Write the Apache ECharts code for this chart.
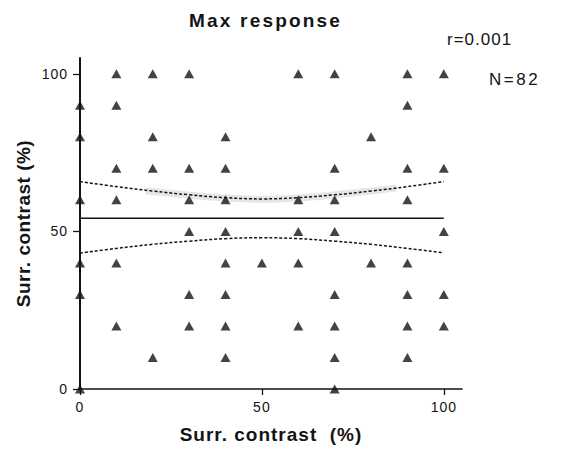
<!DOCTYPE html>
<html>
<head>
<meta charset="utf-8">
<script src="https://cdn.jsdelivr.net/npm/echarts@6/dist/echarts.min.js"></script>
<style>
html,body{margin:0;padding:0;background:#fff;}
#chart{width:574px;height:449px;}
</style>
</head>
<body>
<div id="chart"></div>
<script>
// Scatter points grouped by y value (Surr. contrast %)
const rowY = [100, 90, 80, 70, 60, 50, 40, 30, 20, 10, 0];
const rowX = [
  [10, 20, 30, 60, 70, 90, 100],
  [0, 10, 90],
  [0, 20, 40, 80],
  [10, 20, 30, 40, 70, 90, 100],
  [0, 10, 30, 40, 60, 70, 90],
  [30, 40, 60, 70, 100],
  [0, 10, 40, 50, 60, 80, 90],
  [0, 30, 40, 70, 90, 100],
  [10, 30, 40, 60, 70, 90, 100],
  [20, 40, 70, 90],
  [0, 70]
];
// Regression line and confidence band
const fitX = [0, 100];
const fitY = [54.2, 54.2];
const ciX = [0, 10, 20, 30, 40, 50, 60, 70, 80, 90, 100];
const ciUpper = [65.8, 64.2, 62.8, 61.6, 60.7, 60.3, 60.7, 61.6, 62.8, 64.2, 65.8];
const ciLower = [43.1, 44.6, 45.9, 46.9, 47.7, 48.0, 47.7, 46.9, 45.9, 44.6, 43.2];
// Gray scan smudge along the upper band
const smudgeX = [18, 30, 40, 50, 60, 70, 80, 87];
const smudgeY = [62.9, 61.5, 60.6, 60.2, 60.6, 61.6, 62.8, 63.8];
const tickVals = [0, 50, 100];
const titleText = 'Max response';
const xName = 'Surr. contrast  (%)';
const yName = 'Surr. contrast (%)';
const rText = 'r=0.001';
const nText = 'N=82';

const pts = [];
rowY.forEach((y, i) => rowX[i].forEach(x => pts.push([x, y])));
const zip = (a, b) => a.map((v, i) => [v, b[i]]);

const FONT = '"Liberation Sans", Arial, sans-serif';
const INK = '#141414';

const chart = echarts.init(document.getElementById('chart'), null, {renderer: 'svg'});
chart.setOption({
  animation: false,
  backgroundColor: '#fff',
  title: {
    text: titleText,
    left: 184, top: 6,
    textStyle: {fontFamily: FONT, fontSize: 19, fontWeight: 'bold', color: INK}
  },
  grid: {left: 80, right: 112, top: 58, bottom: 60},
  xAxis: {
    type: 'value', min: 0, max: 105,
    name: xName, nameLocation: 'middle', nameGap: 36,
    nameTextStyle: {fontFamily: FONT, fontSize: 19, fontWeight: 'bold', color: INK},
    axisLine: {lineStyle: {color: INK, width: 1.6}},
    axisTick: {show: true, length: 6, customValues: tickVals, lineStyle: {color: INK, width: 1.3}},
    axisLabel: {customValues: tickVals, fontFamily: FONT, fontSize: 14, color: INK, margin: 11},
    splitLine: {show: false}
  },
  yAxis: {
    type: 'value', min: 0, max: 105,
    name: yName, nameLocation: 'middle', nameGap: 47, nameRotate: 90,
    nameTextStyle: {fontFamily: FONT, fontSize: 19, fontWeight: 'bold', color: INK},
    axisLine: {show: true, lineStyle: {color: INK, width: 2}},
    axisTick: {show: true, length: 7, customValues: tickVals, lineStyle: {color: INK, width: 1.3}},
    axisLabel: {customValues: tickVals, fontFamily: FONT, fontSize: 14, color: INK, margin: 12},
    splitLine: {show: false}
  },
  graphic: [
    {type: 'text', left: 447, top: 31, style: {text: rText, font: '17px "Liberation Sans", Arial, sans-serif', fill: INK}},
    {type: 'text', left: 489, top: 71, style: {text: nText, font: '17px "Liberation Sans", Arial, sans-serif', fill: INK}}
  ],
  series: [
    {type: 'line', data: zip(smudgeX, smudgeY), smooth: 0.4, symbol: 'none', z: 1,
     lineStyle: {color: 'rgba(200,200,200,0.45)', width: 7}},
    {type: 'line', data: zip(fitX, fitY), symbol: 'none', z: 2,
     lineStyle: {color: INK, width: 1.5}},
    {type: 'line', data: zip(ciX, ciUpper), smooth: 0.4, symbol: 'none', z: 2,
     lineStyle: {color: INK, width: 1.5, type: [3, 2]}},
    {type: 'line', data: zip(ciX, ciLower), smooth: 0.4, symbol: 'none', z: 2,
     lineStyle: {color: INK, width: 1.5, type: [3, 2]}},
    {type: 'scatter', data: pts, symbol: 'triangle', symbolSize: [10, 9], z: 5,
     itemStyle: {color: INK}}
  ]
});

// letter spacing like the printed original
const spacing = {};
spacing[titleText] = '2.2px';
spacing[xName] = '1px';
spacing[yName] = '0.5px';
spacing[rText] = '1px';
spacing[nText] = '2.5px';
document.querySelectorAll('#chart text').forEach(t => {
  const s = spacing[t.textContent];
  t.style.letterSpacing = s || '1px';
});
</script>
</body>
</html>
